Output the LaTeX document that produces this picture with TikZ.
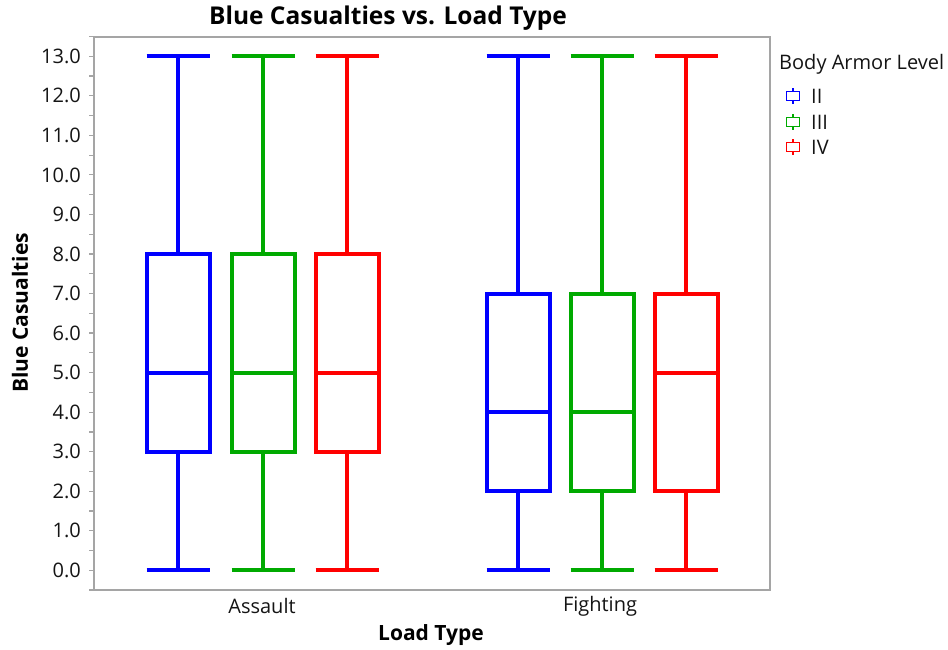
\documentclass[tikz,border=0pt]{standalone}
\usepackage{fontspec}
\setmainfont{Open Sans}
\definecolor{armII}{RGB}{0,0,255}
\definecolor{armIII}{RGB}{0,170,0}
\definecolor{armIV}{RGB}{255,0,0}
\definecolor{framegray}{RGB}{165,165,165}
\definecolor{ticktext}{RGB}{20,20,20}
\begin{document}
\begin{tikzpicture}[x=1pt,y=1pt,
  ticklabel/.style={anchor=east,inner sep=0pt,font=\fontsize{20}{22}\selectfont,text=ticktext},
  catlabel/.style={inner sep=0pt,font=\fontsize{20}{22}\selectfont,text=ticktext},
  axistitle/.style={inner sep=0pt,font=\bfseries\fontsize{21}{23}\selectfont},
  whisk/.style={line width=4pt},
  legicon/.style={line width=1.5pt}]
\useasboundingbox (0,0) rectangle (948,650);
% plot frame
\draw[framegray,line width=1.5pt] (94,60) rectangle (770,613);
% title
\node[inner sep=0pt,font=\bfseries\fontsize{24.5}{26}\selectfont] (title) at (388,632) {Blue Casualties vs. Load Type};
% y axis: data scale (value 0 at y=79.7, one unit = 39.54)
\begin{scope}[shift={(0,79.7)},y=39.54pt]
  \foreach \v in {0,...,13} {
    \draw[framegray,line width=1.2pt] (89,\v) -- (94,\v);
    \node[ticklabel] (yt\v) at (81,\v) {\v.0};
  }
  \foreach \v in {-0.5,0.5,1.5,...,13.5}
    \draw[framegray,line width=1.2pt] (89,\v) -- (94,\v);
  % box plots: centre / Q1 / median / Q3 / colour; whiskers 0 to 13
  \foreach \cx/\qa/\md/\qc/\col in {178/3/5/8/armII,263/3/5/8/armIII,347/3/5/8/armIV,
                                    518/2/4/7/armII,602/2/4/7/armIII,686/2/5/7/armIV} {
    \draw[\col,whisk] (\cx-31.5,0) -- (\cx+31.5,0);
    \draw[\col,whisk] (\cx,0) -- (\cx,\qa);
    \draw[\col,whisk] (\cx-31.5,\qa) rectangle (\cx+31.5,\qc);
    \draw[\col,whisk] (\cx-31.5,\md) -- (\cx+31.5,\md);
    \draw[\col,whisk] (\cx,\qc) -- (\cx,13);
    \draw[\col,whisk] (\cx-31.5,13) -- (\cx+31.5,13);
  }
\end{scope}
% axis titles and categories
\node[axistitle,rotate=90] (ylab) at (20,337) {Blue Casualties};
\node[catlabel] (assault) at (262,44) {Assault};
\node[catlabel] (fighting) at (600,44) {Fighting};
\node[axistitle] (xlab) at (431,15) {Load Type};
% legend
\node[anchor=west,inner sep=0pt,font=\fontsize{20}{22}\selectfont,text=ticktext] (legtitle) at (779,586) {Body Armor Level};
\foreach \yy/\col/\lab/\nm in {554/armII/II/la,528/armIII/III/lb,503/armIV/IV/lc} {
  \draw[\col,legicon] (793,\yy-8) -- (793,\yy+8);
  \draw[\col,legicon,fill=white] (786.5,\yy-4.5) rectangle (799.5,\yy+4.5);
  \node[anchor=west,inner sep=0pt,font=\fontsize{20}{22}\selectfont,text=ticktext] (\nm) at (811,\yy) {\lab};
}
\end{tikzpicture}
\end{document}
